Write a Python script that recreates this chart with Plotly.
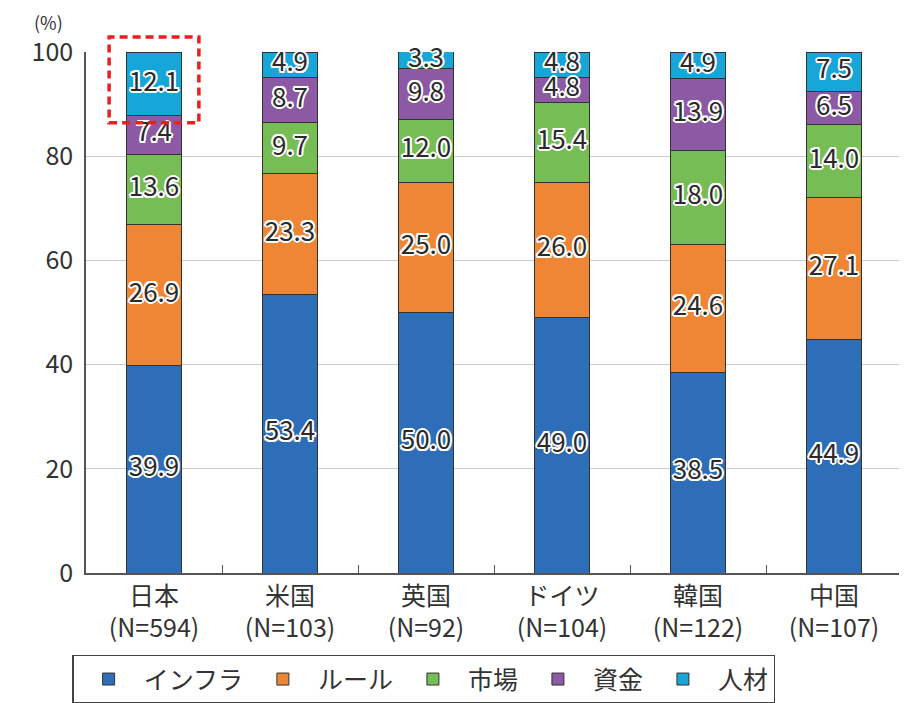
import plotly.graph_objects as go

countries = ["日本", "米国", "英国", "ドイツ", "韓国", "中国"]
sample_n = [594, 103, 92, 104, 122, 107]
series_names = ["インフラ", "ルール", "市場", "資金", "人材"]
infra = [39.9, 53.4, 50.0, 49.0, 38.5, 44.9]
rule = [26.9, 23.3, 25.0, 26.0, 24.6, 27.1]
market = [13.6, 9.7, 12.0, 15.4, 18.0, 14.0]
funds = [7.4, 8.7, 9.8, 4.8, 13.9, 6.5]
talent = [12.1, 4.9, 3.3, 4.8, 4.9, 7.5]
y_ticks = [0, 20, 40, 60, 80, 100]

colors = ["#2e6db8", "#ef8636", "#77bd55", "#8c59a5", "#16a6d8"]
series = [infra, rule, market, funds, talent]
cats = [f"{c}<br>(N={n})" for c, n in zip(countries, sample_n)]

FONT = "Noto Sans CJK JP"
fig = go.Figure()
for name, vals, col in zip(series_names, series, colors):
    fig.add_trace(go.Bar(
        x=cats, y=vals, name=name, width=0.41,
        marker=dict(color=col, line=dict(color="#333333", width=1)),
        textposition="none",
    ))

# labels centred in segments
base = [0.0] * len(cats)
shadow = ("2px 0 0 white, -2px 0 0 white, 0 2px 0 white, 0 -2px 0 white, "
          "1.5px 1.5px 0 white, -1.5px -1.5px 0 white, 1.5px -1.5px 0 white, -1.5px 1.5px 0 white")
for vals in series:
    centers = [b + v / 2 for b, v in zip(base, vals)]
    fig.add_trace(go.Scatter(
        x=cats, y=centers, mode="text", text=[f"{v:.1f}" for v in vals],
        textfont=dict(family=FONT, size=26, color="#2a2a2a", shadow=shadow),
        showlegend=False, hoverinfo="skip", cliponaxis=False,
    ))
    base = [b + v for b, v in zip(base, vals)]

fig.add_shape(type="rect", xref="x", yref="paper", x0=-0.33, x1=0.33, y0=0.864, y1=1.029,
              line=dict(color="#e8201e", width=3.5, dash="8px,5px"), layer="above")

fig.add_annotation(text="(%)", xref="paper", yref="paper", x=-0.046, y=1.058,
                   xanchor="center", yanchor="middle", showarrow=False,
                   font=dict(family=FONT, size=18, color="#333333"))

fig.update_layout(
    width=899, height=695,
    margin=dict(l=78, r=5, t=44, b=130, autoexpand=False),
    barmode="stack", bargap=0.59,
    plot_bgcolor="white", paper_bgcolor="white",
    font=dict(family=FONT, size=24, color="#333333"),
    showlegend=True,
    legend=dict(orientation="h", x=-0.017, xanchor="left", y=-0.157, yanchor="top",
                bordercolor="#444444", borderwidth=1.5, font=dict(size=25),
                traceorder="normal", itemwidth=60),
    xaxis=dict(showline=True, linecolor="#555555", linewidth=1.5, ticks="inside",
               tickson="boundaries", ticklen=8, tickcolor="#555555",
               tickfont=dict(size=25, color="#333333")),
    yaxis=dict(range=[0, 100], tickvals=y_ticks, showline=True, linecolor="#555555",
               linewidth=1.5, gridcolor="#cccccc", gridwidth=1.2,
               tickfont=dict(size=25, color="#333333"), ticks="", ticklabelstandoff=6),
)
fig.write_html("out.html")
